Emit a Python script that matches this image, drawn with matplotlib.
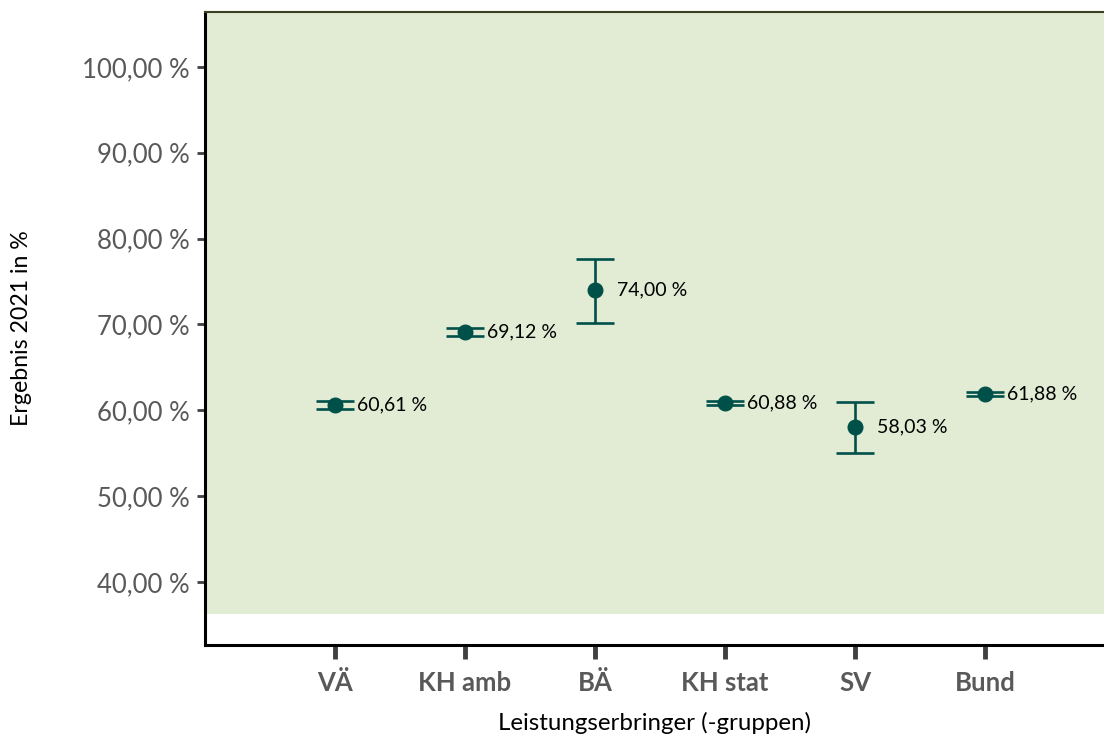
import numpy as np
import matplotlib
matplotlib.use('Agg')
import matplotlib.pyplot as plt

# data
groups = ['VÄ', 'KH amb', 'BÄ', 'KH stat', 'SV', 'Bund']
values = [60.61, 69.12, 74.00, 60.88, 58.03, 61.88]
lower = [60.10, 68.70, 70.15, 60.62, 55.05, 61.68]
upper = [61.12, 69.55, 77.62, 61.12, 60.95, 62.08]
yticks = [40, 50, 60, 70, 80, 90, 100]

teal = '#00504a'
green_bg = '#e2ebd3'

plt.rcParams['font.family'] = ['Lato', 'DejaVu Sans']

fig = plt.figure(figsize=(11.04, 7.4), dpi=100)
ax = fig.add_axes([205 / 1104, 1 - 645 / 740, 1 - 205 / 1104, (645 - 12) / 740])

x = np.arange(len(groups))
vals = np.array(values)
err = np.vstack([vals - np.array(lower), np.array(upper) - vals])

ymin, ymax = 32.66, 106.4
ax.set_ylim(ymin, ymax)
ax.set_xlim(-1, 5.915)
ax.axhspan(36.27, ymax, color=green_bg, zorder=0, lw=0)

ax.errorbar(x, vals, yerr=err, fmt='o', color=teal, ecolor=teal,
            markersize=10.5, elinewidth=1.9, capsize=14, capthick=1.9, zorder=3)

for xi, v in zip(x, values):
    ax.annotate(f'{v:.2f} %'.replace('.', ','), (xi, v), xytext=(15.5, 0),
                textcoords='offset points', va='center', ha='left',
                fontsize=14, color='black')

ax.set_yticks(yticks)
ax.set_yticklabels([f'{t:.2f} %'.replace('.', ',') for t in yticks])
ax.set_xticks(x)
ax.set_xticklabels(groups, fontweight='bold')

ax.tick_params(axis='y', direction='out', length=6, width=2, color='#404040',
               labelsize=18.5, labelcolor='#595959', pad=5)
ax.tick_params(axis='x', direction='out', length=10, width=3.5, color='#404040',
               labelsize=18.5, labelcolor='#595959', pad=9)

ax.spines['right'].set_visible(False)
ax.spines['left'].set_linewidth(2.2)
ax.spines['bottom'].set_linewidth(2.2)
ax.spines['left'].set_color('black')
ax.spines['bottom'].set_color('black')
ax.spines['top'].set_linewidth(1.5)
ax.spines['top'].set_color('#3a4020')

ax.set_ylabel('Ergebnis 2021 in %', fontsize=16.7)
ax.set_xlabel('Leistungserbringer (-gruppen)', fontsize=17.3)
ax.yaxis.set_label_coords((22 - 205) / 899, 0.5)
ax.xaxis.set_label_coords(0.5, (645 - 723) / 633)
ax.xaxis.label.set_va('center')
ax.yaxis.label.set_va('center')

fig.savefig('out.png', dpi=100)
